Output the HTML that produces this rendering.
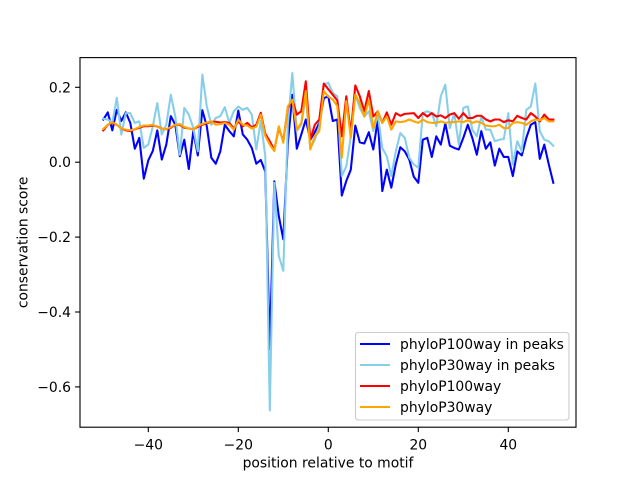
<!DOCTYPE html>
<html><head><meta charset="utf-8"><style>
html,body{margin:0;padding:0;background:#fff;}
svg{display:block;}
text{font-family:"DejaVu Sans","Liberation Sans",sans-serif;font-size:13.9px;fill:#000;}
</style></head><body>
<svg width="640" height="480" viewBox="0 0 640 480" xmlns="http://www.w3.org/2000/svg">
<rect x="0" y="0" width="640" height="480" fill="#fff"/>
<defs><clipPath id="c"><rect x="80" y="57.6" width="496" height="369.6"/></clipPath></defs>
<g clip-path="url(#c)">
<g transform="translate(328.3,162.2) scale(4.5,-374.5)" fill="none" stroke-linejoin="round" stroke-linecap="square">
<polyline vector-effect="non-scaling-stroke" stroke="#0000ff" stroke-width="2.08" points="-50,0.114 -49,0.133 -48,0.085 -47,0.14 -46,0.11 -45,0.133 -44,0.105 -43,0.036 -42,0.065 -41,-0.044 -40,0.005 -39,0.03 -38,0.085 -37,0.007 -36,0.047 -35,0.123 -34,0.1 -33,0.016 -32,0.06 -31,-0.018 -30,0.083 -29,0.018 -28,0.139 -27,0.096 -26,0.012 -25,-0.004 -24,0.029 -23,0.1 -22,0.083 -21,0.069 -20,0.138 -19,0.074 -18,0.06 -17,0.038 -16,-0.004 -15,0.006 -14,-0.025 -13,-0.5 -12,-0.051 -11,-0.144 -10,-0.206 -9,0.05 -8,0.18 -7,0.036 -6,0.074 -5,0.114 -4,0.06 -3,0.08 -2,0.105 -1,0.171 0,0.176 1,0.11 2,0.114 3,-0.089 4,-0.05 5,-0.02 6,0.098 7,0.053 8,0.05 9,0.08 10,0.034 11,0.114 12,-0.077 13,-0.02 14,-0.068 15,-0.006 16,0.04 17,0.029 18,0.007 19,-0.039 20,-0.055 21,0.06 22,0.065 23,0.014 24,0.069 25,0.047 26,0.103 27,0.044 28,0.038 29,0.034 30,0.065 31,0.1 32,0.065 33,0.02 34,0.083 35,0.036 36,0.053 37,-0.009 38,0.036 39,0.014 40,0.014 41,-0.037 42,0.029 43,0.018 44,0.065 45,0.1 46,0.107 47,0.009 48,0.047 49,-0.006 50,-0.055"/>
<polyline vector-effect="non-scaling-stroke" stroke="#87ceeb" stroke-width="2.08" points="-50,0.116 -49,0.114 -48,0.105 -47,0.172 -46,0.074 -45,0.131 -44,0.131 -43,0.105 -42,0.109 -41,0.038 -40,0.047 -39,0.096 -38,0.158 -37,0.074 -36,0.1 -35,0.18 -34,0.122 -33,0.02 -32,0.145 -31,0.127 -30,0.091 -29,0.029 -28,0.234 -27,0.149 -26,0.1 -25,0.118 -24,0.123 -23,0.147 -22,0.105 -21,0.136 -20,0.149 -19,0.14 -18,0.145 -17,0.127 -16,0.034 -15,0.11 -14,0.016 -13,-0.663 -12,-0.055 -11,-0.25 -10,-0.29 -9,0.1 -8,0.238 -7,0.083 -6,0.1 -5,0.176 -4,0.038 -3,0.06 -2,0.096 -1,0.207 0,0.212 1,0.185 2,0.176 3,-0.037 4,-0.011 5,0.069 6,0.18 7,0.145 8,0.122 9,0.136 10,0.083 11,0.127 12,0.038 13,0.016 14,-0.037 15,0.029 16,0.078 17,0.065 18,0.012 19,-0.006 20,-0.015 21,0.131 22,0.136 23,0.131 24,0.096 25,0.176 26,0.207 27,0.091 28,0.131 29,0.047 30,0.145 31,0.149 32,0.087 33,0.069 34,0.122 35,0.087 36,0.087 37,0.056 38,0.06 39,0.062 40,0.131 41,-0.006 42,0.056 43,0.029 44,0.14 45,0.149 46,0.21 47,0.083 48,0.06 49,0.056 50,0.044"/>
<polyline vector-effect="non-scaling-stroke" stroke="#ff0000" stroke-width="2.08" points="-50,0.085 -49,0.1 -48,0.105 -47,0.1 -46,0.09 -45,0.085 -44,0.083 -43,0.088 -42,0.092 -41,0.096 -40,0.096 -39,0.098 -38,0.095 -37,0.09 -36,0.088 -35,0.092 -34,0.1 -33,0.1 -32,0.092 -31,0.09 -30,0.088 -29,0.094 -28,0.1 -27,0.104 -26,0.108 -25,0.108 -24,0.106 -23,0.107 -22,0.105 -21,0.09 -20,0.109 -19,0.096 -18,0.105 -17,0.093 -16,0.1 -15,0.132 -14,0.076 -13,0.056 -12,0.032 -11,0.092 -10,0.056 -9,0.145 -8,0.167 -7,0.127 -6,0.136 -5,0.216 -4,0.06 -3,0.1 -2,0.114 -1,0.21 0,0.195 1,0.18 2,0.165 3,0.069 4,0.176 5,0.078 6,0.205 7,0.176 8,0.136 9,0.19 10,0.122 11,0.136 12,0.105 13,0.133 14,0.1 15,0.131 16,0.124 17,0.129 18,0.13 19,0.131 20,0.118 21,0.131 22,0.122 23,0.131 24,0.122 25,0.125 26,0.118 27,0.127 28,0.131 29,0.116 30,0.131 31,0.118 32,0.118 33,0.124 34,0.124 35,0.114 36,0.109 37,0.114 38,0.114 39,0.107 40,0.112 41,0.109 42,0.124 43,0.118 44,0.114 45,0.131 46,0.122 47,0.109 48,0.127 49,0.114 50,0.114"/>
<polyline vector-effect="non-scaling-stroke" stroke="#ffa500" stroke-width="2.08" points="-50,0.089 -49,0.1 -48,0.107 -47,0.1 -46,0.09 -45,0.087 -44,0.085 -43,0.088 -42,0.094 -41,0.098 -40,0.098 -39,0.1 -38,0.094 -37,0.09 -36,0.088 -35,0.094 -34,0.1 -33,0.102 -32,0.094 -31,0.09 -30,0.088 -29,0.097 -28,0.102 -27,0.106 -26,0.109 -25,0.1 -24,0.102 -23,0.105 -22,0.1 -21,0.087 -20,0.114 -19,0.1 -18,0.098 -17,0.09 -16,0.095 -15,0.127 -14,0.07 -13,0.047 -12,0.03 -11,0.096 -10,0.052 -9,0.149 -8,0.167 -7,0.087 -6,0.105 -5,0.19 -4,0.034 -3,0.069 -2,0.083 -1,0.19 0,0.175 1,0.167 2,0.15 3,0.012 4,0.163 5,0.065 6,0.18 7,0.158 8,0.122 9,0.167 10,0.091 11,0.136 12,0.105 13,0.122 14,0.087 15,0.109 16,0.107 17,0.109 18,0.114 19,0.109 20,0.105 21,0.114 22,0.107 23,0.105 24,0.105 25,0.109 26,0.105 27,0.107 28,0.107 29,0.109 30,0.107 31,0.112 32,0.105 33,0.109 34,0.105 35,0.098 36,0.096 37,0.096 38,0.1 39,0.091 40,0.091 41,0.105 42,0.107 43,0.105 44,0.1 45,0.109 46,0.114 47,0.112 48,0.118 49,0.109 50,0.109"/>
</g>
</g>
<!-- frame -->
<rect x="80" y="57.6" width="496" height="369.6" fill="none" stroke="#000" stroke-width="1.11"/>
<!-- y ticks -->
<g stroke="#000" stroke-width="1.11">
<line x1="75.1" y1="87.3" x2="80" y2="87.3"/>
<line x1="75.1" y1="162.2" x2="80" y2="162.2"/>
<line x1="75.1" y1="237.1" x2="80" y2="237.1"/>
<line x1="75.1" y1="312" x2="80" y2="312"/>
<line x1="75.1" y1="386.9" x2="80" y2="386.9"/>
<line x1="148.3" y1="427.2" x2="148.3" y2="432.1"/>
<line x1="238.3" y1="427.2" x2="238.3" y2="432.1"/>
<line x1="328.3" y1="427.2" x2="328.3" y2="432.1"/>
<line x1="418.3" y1="427.2" x2="418.3" y2="432.1"/>
<line x1="508.3" y1="427.2" x2="508.3" y2="432.1"/>
</g>
<g text-anchor="end">
<text x="71" y="92.3">0.2</text>
<text x="71" y="167.2">0.0</text>
<text x="71" y="242.1">−0.2</text>
<text x="71" y="317">−0.4</text>
<text x="71" y="391.9">−0.6</text>
</g>
<g text-anchor="middle">
<text x="148.3" y="449.3">−40</text>
<text x="238.3" y="449.3">−20</text>
<text x="328.3" y="449.3">0</text>
<text x="418.3" y="449.3">20</text>
<text x="508.3" y="449.3">40</text>
<text x="328" y="467.5">position relative to motif</text>
<text transform="translate(27.5,242.4) rotate(-90)">conservation score</text>
</g>
<!-- legend -->
<rect x="355.5" y="332.5" width="213.5" height="87.5" rx="2.8" ry="2.8" fill="#fff" fill-opacity="0.8" stroke="#cccccc" stroke-width="1.11"/>
<g stroke-width="2.08">
<line x1="360" y1="344" x2="390" y2="344" stroke="#0000ff"/>
<line x1="360" y1="365" x2="390" y2="365" stroke="#87ceeb"/>
<line x1="360" y1="386" x2="390" y2="386" stroke="#ff0000"/>
<line x1="360" y1="407" x2="390" y2="407" stroke="#ffa500"/>
</g>
<text x="400" y="349">phyloP100way in peaks</text>
<text x="400" y="370">phyloP30way in peaks</text>
<text x="400" y="391">phyloP100way</text>
<text x="400" y="412">phyloP30way</text>
</svg>
</body></html>
